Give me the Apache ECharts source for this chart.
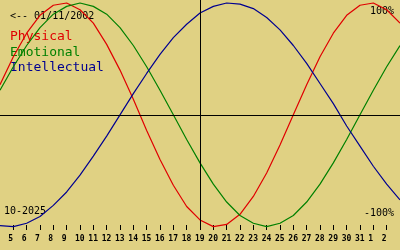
<!DOCTYPE html>
<html>
<head>
<meta charset="utf-8">
<script src="https://cdn.jsdelivr.net/npm/echarts@6/dist/echarts.min.js"></script>
<style>
html,body{margin:0;padding:0;background:#E0D183;}
#c{width:400px;height:250px;}
</style>
</head>
<body>
<div id="c"></div>
<script>
// Days shown: Oct 4 .. Nov 3 (2025)
var days = ['4','5','6','7','8','9','10','11','12','13','14','15','16','17','18','19','20','21','22','23','24','25','26','27','28','29','30','31','1','2','3'];
var today = '19';
var physical = [27,52,73,89,98,100,94,82,63,40,14,-14,-40,-63,-82,-94,-100,-98,-89,-73,-52,-27,0,27,52,73,89,98,100,94,82];
var emotional = [22,43,62,78,90,97,100,97,90,78,62,43,22,0,-22,-43,-62,-78,-90,-97,-100,-97,-90,-78,-62,-43,-22,0,22,43,62];
var intellectual = [-99,-100,-97,-91,-81,-69,-54,-37,-19,0,19,37,54,69,81,91,97,100,99,95,87,76,62,46,28,10,-10,-28,-46,-62,-76];
var seriesNames = ['Physical','Emotional','Intellectual'];
var seriesColors = ['#E00000','#008000','#000090'];
var birthText = '<-- 01/11/2002';
var monthText = '10-2025';
var topText = '100%';
var bottomText = '-100%';

var chart = echarts.init(document.getElementById('c'), null, {renderer:'canvas'});
var mono = 'DejaVu Sans Mono';
var lastIdx = days.length - 1;
function inner(i){ return i > 0 && i < lastIdx; }

var datas = [physical, emotional, intellectual];
var series = datas.map(function(d, k){
  return {
    name: seriesNames[k], type:'line', data:d, symbol:'none', smooth:false,
    lineStyle:{color:seriesColors[k], width:1.2}, silent:true, animation:false
  };
});
series[0].markLine = {
  silent:true, symbol:'none', animation:false,
  label:{show:false},
  lineStyle:{color:'#000', width:1, type:'solid'},
  data:[{yAxis:0},{xAxis:today}]
};

chart.setOption({
  backgroundColor:'#E0D183',
  animation:false,
  grid:{left:0,right:0,top:0,bottom:20},
  xAxis:{
    type:'category', data:days, boundaryGap:false,
    axisLine:{show:false, onZero:false},
    axisTick:{show:true, inside:true, length:5, interval:function(i){return inner(i);}, lineStyle:{color:'#000',width:1}},
    axisLabel:{show:true, interval:function(i){return inner(i);}, color:'#000', fontFamily:mono, fontWeight:'bold', fontSize:8, margin:5, align:'left', padding:[0,0,0,-5]},
    splitLine:{show:false}
  },
  yAxis:{
    type:'value', min:-103, max:102.7, show:false, splitLine:{show:false}
  },
  series:series,
  graphic:[
    {type:'text', left:10, top:11, style:{text:birthText, fill:'#000', font:'10px "DejaVu Sans Mono"'}},
    {type:'text', left:10, top:30, style:{text:seriesNames[0], fill:seriesColors[0], font:'13px "DejaVu Sans Mono"'}},
    {type:'text', left:10, top:46, style:{text:seriesNames[1], fill:seriesColors[1], font:'13px "DejaVu Sans Mono"'}},
    {type:'text', left:10, top:61, style:{text:seriesNames[2], fill:seriesColors[2], font:'13px "DejaVu Sans Mono"'}},
    {type:'text', left:4, top:206, style:{text:monthText, fill:'#000', font:'10px "DejaVu Sans Mono"'}},
    {type:'text', right:6, top:6, style:{text:topText, fill:'#000', font:'10px "DejaVu Sans Mono"'}},
    {type:'text', right:6, top:208, style:{text:bottomText, fill:'#000', font:'10px "DejaVu Sans Mono"'}}
  ]
});
</script>
</body>
</html>
